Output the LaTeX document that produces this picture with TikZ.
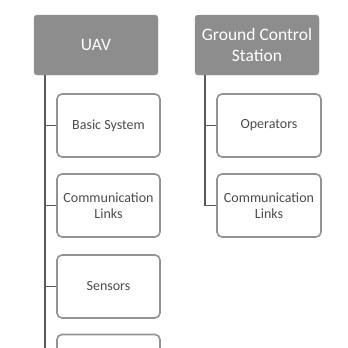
\documentclass[tikz,border=0pt]{standalone}
\usepackage{fontspec}
\setmainfont{Carlito}
\begin{document}
\begin{tikzpicture}[x=1pt,y=-1pt,
  head/.style={fill=gray!95!black!85, draw=gray!80, rounded corners=3pt, text=white, font=\fontsize{17.5}{21}\selectfont, align=center, inner sep=0pt},
  item/.style={draw=gray!85, line width=1.6pt, rounded corners=5pt, fill=white, text=black!70, font=\fontsize{14}{15.5}\selectfont, align=center, inner sep=0pt},
  link/.style={draw=black!65, line width=1.4pt}]
\useasboundingbox (0,0) rectangle (348,348);
\clip (0,0) rectangle (348,348);
% headers
\node[head, minimum width=124pt, minimum height=60pt] (uav) at (96,45) {UAV};
\node[head, minimum width=124pt, minimum height=60pt] (gcs) at (257,45) {Ground Control\\Station};
% UAV items
\node[item, minimum width=103pt, minimum height=63pt] (bs) at (108.5,125.5) {Basic System};
\node[item, minimum width=103pt, minimum height=63pt] (cl) at (108.5,205.5) {Communication\\Links};
\node[item, minimum width=103pt, minimum height=63pt] (se) at (108.5,286.5) {Sensors};
\node[item, minimum width=103pt, minimum height=63pt] (x4) at (108.5,366) {};
% GCS items
\node[item, minimum width=104pt, minimum height=63pt] (op) at (269,125.5) {Operators};
\node[item, minimum width=104pt, minimum height=63pt] (cl2) at (269,205.5) {Communication\\Links};
% connectors
\coordinate (t1) at (45,75);
\coordinate (t2) at (45,360);
\draw[link] (t1) -- (t2);
\draw[link] (45,125.5) -- (bs.west);
\draw[link] (45,205.5) -- (cl.west);
\draw[link] (45,286.5) -- (se.west);
\draw[link] (45,366) -- (x4.west);
\coordinate (g1) at (205,75);
\draw[link] (g1) -- (205,205.5) -- (cl2.west);
\draw[link] (205,125.5) -- (op.west);
\end{tikzpicture}
\end{document}
